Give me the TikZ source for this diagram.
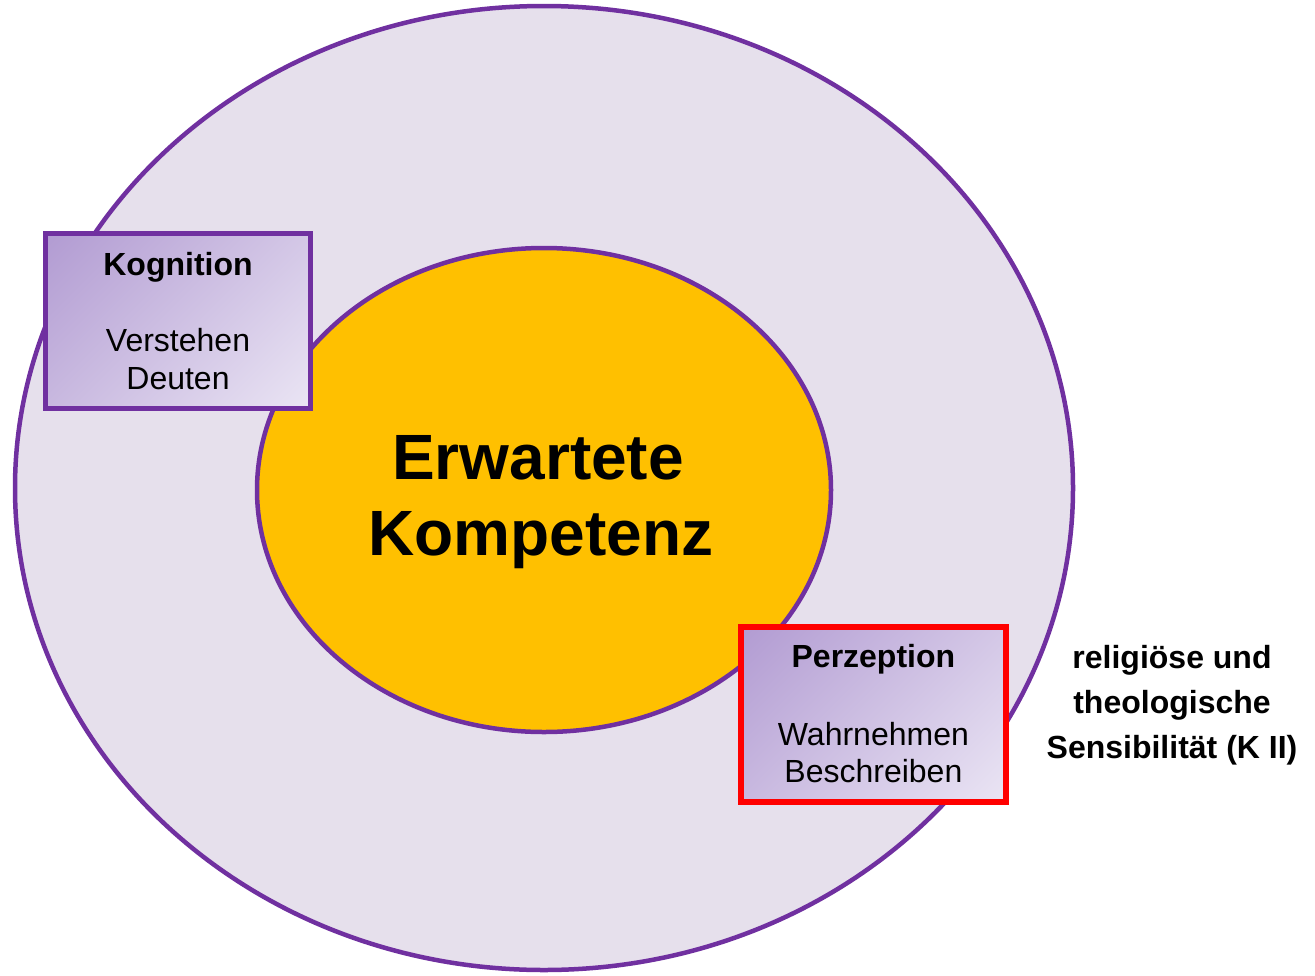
\documentclass[tikz,border=0pt]{standalone}
\usepackage{fontspec}
\setmainfont{Liberation Sans}
\usetikzlibrary{shapes.geometric}
\definecolor{kpurple}{HTML}{7030A0}
\definecolor{klav}{HTML}{E6E0EC}
\definecolor{korange}{HTML}{FFC000}
\definecolor{kxlight}{RGB}{246,244,251}
\definecolor{kxdark}{RGB}{166,140,203}
\pgfdeclareverticalshading{boxgrad}{100bp}{color(0bp)=(kxlight); color(100bp)=(kxdark)}
\tikzset{
  boxshape/.style={rectangle, inner sep=0pt, shading=boxgrad, shading angle=45},
  boxtitle/.style={anchor=base, font=\fontsize{32}{38}\selectfont\bfseries, inner sep=0pt},
  boxtext/.style={anchor=base, font=\fontsize{32}{38}\selectfont, inner sep=0pt},
  bigtext/.style={anchor=base, font=\fontsize{64}{76}\selectfont\bfseries, inner sep=0pt},
  sidetext/.style={anchor=base, font=\fontsize{32}{38}\selectfont\bfseries, inner sep=0pt},
}
\begin{document}
\begin{tikzpicture}[x=1pt,y=-1pt]
\useasboundingbox[fill=white] (0,0) rectangle (1315,975);
% outer ellipse
\node[ellipse, draw=kpurple, line width=4.5pt, fill=klav, minimum width=1058pt, minimum height=964pt, inner sep=0pt] (outer) at (544,488) {};
% inner ellipse
\node[ellipse, draw=kpurple, line width=4.5pt, fill=korange, minimum width=574pt, minimum height=484pt, inner sep=0pt] (inner) at (544,490) {};
\node[bigtext] (t1) at (538,479) {Erwartete};
\node[bigtext] (t2) at (541,555) {Kompetenz};
% Kognition box
\node[boxshape, minimum width=265pt, minimum height=174.3pt] (kog) at (178,321.15) {};
\draw[kpurple, line width=5.3pt] (kog.north west) rectangle (kog.south east);
\node[boxtitle] (kogt) at (178,275) {Kognition};
\node[boxtext] (kog1) at (178,351.5) {Verstehen};
\node[boxtext] (kog2) at (178,389) {Deuten};
% Perzeption box
\node[boxshape, minimum width=265.2pt, minimum height=174.3pt] (per) at (873.4,714.15) {};
\draw[red, line width=6pt] (per.north west) rectangle (per.south east);
\node[boxtitle] (pert) at (873.4,667) {Perzeption};
\node[boxtext] (per1) at (873.4,745) {Wahrnehmen};
\node[boxtext] (per2) at (873.4,782) {Beschreiben};
% side text
\node[sidetext] (s1) at (1172,668) {religiöse und};
\node[sidetext] (s2) at (1172,713) {theologische};
\node[sidetext] (s3) at (1172,758) {Sensibilität (K II)};
\end{tikzpicture}
\end{document}
